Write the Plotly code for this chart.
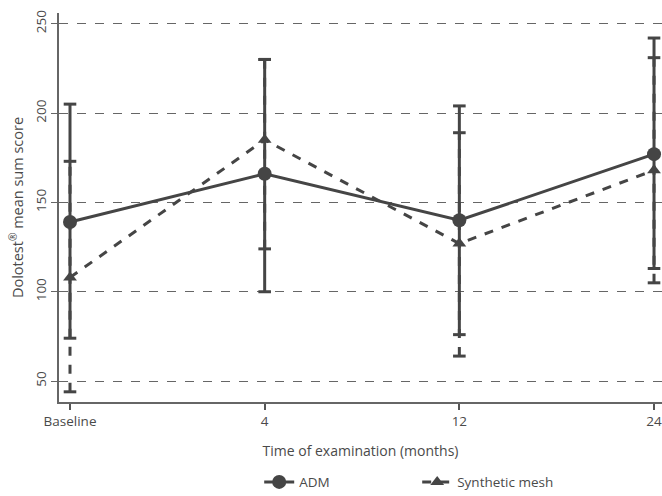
import plotly.graph_objects as go

categories = ["Baseline", "4", "12", "24"]
adm_mean = [139, 166, 140, 177]
adm_low = [74, 100, 76, 113]
adm_high = [205, 230, 204, 242]
mesh_mean = [108, 185, 127, 168]
mesh_low = [44, 124, 64, 105]
mesh_high = [173, 230, 189, 231]

C = "#454545"
FONT = "Open Sans"

def seg(lo, hi):
    xs, ys = [], []
    for c, a, b in zip(categories, lo, hi):
        xs += [c, c, None]
        ys += [a, b, None]
    return xs, ys

fig = go.Figure()

for lo, hi, dash in [(mesh_low, mesh_high, "dash"), (adm_low, adm_high, "solid")]:
    xs, ys = seg(lo, hi)
    fig.add_trace(go.Scatter(x=xs, y=ys, mode="lines", showlegend=False, hoverinfo="skip",
                             cliponaxis=False,
                             line=dict(color=C, width=3, dash=dash)))
    fig.add_trace(go.Scatter(x=categories + categories, y=lo + hi, mode="markers", showlegend=False,
                             hoverinfo="skip", cliponaxis=False,
                             marker=dict(symbol="line-ew", size=9, line=dict(color=C, width=3))))

fig.add_trace(go.Scatter(x=categories, y=mesh_mean, name="Synthetic mesh", mode="lines+markers",
                         cliponaxis=False,
                         line=dict(color=C, width=3, dash="dash"),
                         marker=dict(symbol="triangle-up", size=12, color=C)))
fig.add_trace(go.Scatter(x=categories, y=adm_mean, name="ADM", mode="lines+markers",
                         cliponaxis=False,
                         line=dict(color=C, width=3),
                         marker=dict(symbol="circle", size=14, color=C)))

fig.update_layout(
    width=662, height=496,
    margin=dict(l=59, r=0, t=13, b=94, autoexpand=False),
    paper_bgcolor="white", plot_bgcolor="white",
    font=dict(family=FONT, size=12.5, color="#4a4a4a"),
    legend=dict(orientation="h", x=0.332, xanchor="left", y=-0.206, yanchor="middle",
                traceorder="reversed", font=dict(size=13.5), entrywidth=113),
    xaxis=dict(type="category", range=[-0.0565, 3.041], showline=True, linecolor="#666666",
               linewidth=1.5, ticks="outside", ticklen=6, tickcolor="#555555", tickwidth=1.5,
               showgrid=False, zeroline=False, automargin=False, tickfont=dict(size=13.5),
               title=dict(text="Time of examination (months)", standoff=17, font=dict(size=14))),
    yaxis=dict(range=[38.3, 256], tickvals=[50, 100, 150, 200, 250], tickangle=-90,
               showline=True, linecolor="#666666", linewidth=1.5, ticks="outside", ticklen=6,
               tickcolor="#666666", showgrid=True, gridcolor="#666666", gridwidth=1,
               griddash="dash", zeroline=False, automargin=False, tickfont=dict(size=13.5),
               title=dict(text="Dolotest<sup>®</sup> mean sum score", standoff=5, font=dict(size=14.5))),
)

fig.write_html("out.html", config={"displayModeBar": False},
               post_script="document.body.style.margin='0';document.body.style.overflow='hidden';")
